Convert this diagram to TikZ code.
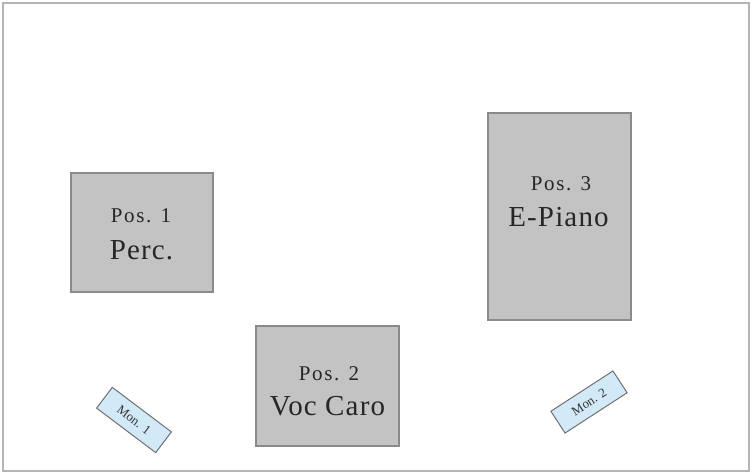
\documentclass[tikz,border=0pt]{standalone}
\usepackage{fontspec}
\setmainfont{Liberation Serif}
\definecolor{boxfill}{HTML}{C3C3C3}
\definecolor{boxline}{HTML}{8A8A8A}
\definecolor{monfill}{HTML}{D2E9F8}
\definecolor{monline}{HTML}{707070}
\definecolor{frameline}{HTML}{B4B4B4}
\begin{document}
\begin{tikzpicture}[x=1pt,y=-1pt,
  posbox/.style={draw=boxline,fill=boxfill,line width=1.2pt,inner sep=0pt},
  smalltxt/.style={anchor=base,inner sep=0pt,text=black!85,font=\fontsize{21}{24}\selectfont\addfontfeature{LetterSpace=8}},
  bigtxt/.style={anchor=base,inner sep=0pt,text=black!85,font=\fontsize{29}{32}\selectfont\addfontfeature{LetterSpace=4}},
  monbox/.style={draw=monline,fill=monfill,line width=1pt,minimum width=74pt,minimum height=26pt,inner sep=0pt,text=black!80,font=\fontsize{13}{14}\selectfont}]
\useasboundingbox (0,0) rectangle (752,474);
\draw[frameline,line width=2pt] (3,3) rectangle (749,471);
\node[posbox,minimum width=142pt,minimum height=119pt] (p1) at (142,232.5) {};
\node[smalltxt] (p1a) at (141,222) {Pos. 1};
\node[bigtxt] (p1b) at (141.5,259) {Perc.};
\node[posbox,minimum width=143pt,minimum height=120pt] (p2) at (327.5,386) {};
\node[smalltxt] (p2a) at (329,380) {Pos. 2};
\node[bigtxt] (p2b) at (327.5,415) {Voc Caro};
\node[posbox,minimum width=143pt,minimum height=207pt] (p3) at (559.5,216.5) {};
\node[smalltxt] (p3a) at (561,190) {Pos. 3};
\node[bigtxt] (p3b) at (558.5,226) {E-Piano};
\node[monbox,rotate=-37] (m1) at (134,420) {Mon. 1};
\node[monbox,rotate=33] (m2) at (589,402) {Mon. 2};
\end{tikzpicture}
\end{document}
